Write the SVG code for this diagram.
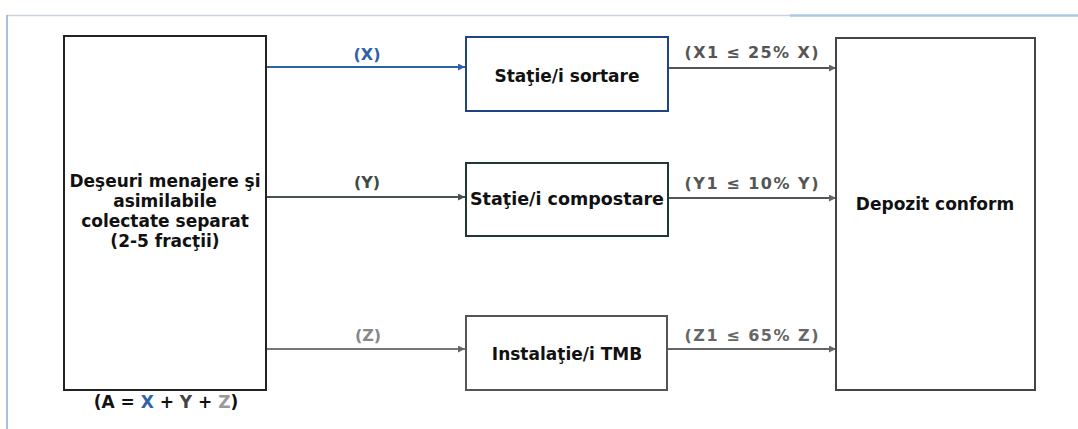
<svg xmlns="http://www.w3.org/2000/svg" width="1078" height="429" viewBox="0 0 1078 429">
<style>
.t{font-family:"DejaVu Sans","Verdana",sans-serif;font-weight:bold;font-size:17px;text-anchor:middle;fill:#111}
.l{font-family:"DejaVu Sans","Verdana",sans-serif;font-weight:bold;font-size:16px;text-anchor:middle}
.box{fill:#fff;stroke-width:2}
.c{fill:none;stroke-width:1.8}
</style>
<defs>
<marker id="mb" viewBox="0 0 10 10" refX="10" refY="5" markerWidth="8" markerHeight="7" markerUnits="userSpaceOnUse" orient="auto"><path d="M0,0L10,5L0,10z" fill="#2e62a8"/></marker>
<marker id="md" viewBox="0 0 10 10" refX="10" refY="5" markerWidth="8" markerHeight="7" markerUnits="userSpaceOnUse" orient="auto"><path d="M0,0L10,5L0,10z" fill="#46524c"/></marker>
<marker id="mg" viewBox="0 0 10 10" refX="10" refY="5" markerWidth="8" markerHeight="7" markerUnits="userSpaceOnUse" orient="auto"><path d="M0,0L10,5L0,10z" fill="#666"/></marker>
</defs>
<rect width="1078" height="429" fill="#fff"/>
<g id="frame">
<line x1="7" y1="15.5" x2="790" y2="15.5" stroke="#c9d3e0" stroke-width="1.5"/>
<line x1="790" y1="15.5" x2="1078" y2="15.5" stroke="#a9c7e6" stroke-width="2.5"/>
<line x1="7" y1="15" x2="7" y2="429" stroke="#8eaad0" stroke-width="1.5"/>
</g>
<g id="connectors">
<line class="c" x1="266" y1="67" x2="465" y2="67" stroke="#2e62a8" stroke-width="2.2" marker-end="url(#mb)"/>
<line class="c" x1="266" y1="197" x2="465" y2="197" stroke="#46524c" marker-end="url(#md)"/>
<line class="c" x1="266" y1="349" x2="465" y2="349" stroke="#777" marker-end="url(#mg)"/>
<line class="c" x1="668" y1="68" x2="836" y2="68" stroke="#555" marker-end="url(#mg)"/>
<line class="c" x1="668" y1="198" x2="836" y2="198" stroke="#555" marker-end="url(#mg)"/>
<line class="c" x1="668" y1="349" x2="836" y2="349" stroke="#666" marker-end="url(#mg)"/>
<text class="l" x="367" y="60" fill="#2e62a8">(X)</text>
<text class="l" x="367" y="188" fill="#3c4a42">(Y)</text>
<text class="l" x="368" y="341" fill="#888" font-weight="normal">(Z)</text>
<text class="l" x="751.5" y="58" fill="#555" textLength="134" lengthAdjust="spacing">(X1 ≤ 25% X)</text>
<text class="l" x="751.5" y="189" fill="#555" textLength="134" lengthAdjust="spacing">(Y1 ≤ 10% Y)</text>
<text class="l" x="751.5" y="341" fill="#666" textLength="134" lengthAdjust="spacing">(Z1 ≤ 65% Z)</text>
</g>
<g id="source">
<rect class="box" x="64" y="36" width="202" height="354" stroke="#222"/>
<text class="t" x="165" y="187" textLength="191" lengthAdjust="spacingAndGlyphs">Deşeuri menajere şi</text>
<text class="t" x="165" y="207">asimilabile</text>
<text class="t" x="165" y="227">colectate separat</text>
<text class="t" x="165" y="247">(2-5 fracţii)</text>
<text class="t" x="166" y="408">(A = <tspan fill="#2e62a8">X</tspan> + <tspan fill="#444">Y</tspan> + <tspan fill="#999">Z</tspan>)</text>
</g>
<g id="sortare">
<rect class="box" x="466" y="37" width="202" height="74" stroke="#1f4486"/>
<text class="t" x="567" y="82">Staţie/i sortare</text>
</g>
<g id="compostare">
<rect class="box" x="466" y="163" width="202" height="73" stroke="#1e3a2c"/>
<text class="t" x="567" y="205" textLength="194" lengthAdjust="spacingAndGlyphs">Staţie/i compostare</text>
</g>
<g id="tmb">
<rect class="box" x="466" y="316" width="201" height="74" stroke="#555"/>
<text class="t" x="567" y="360">Instalaţie/i TMB</text>
</g>
<g id="depozit">
<rect class="box" x="836" y="38" width="199" height="352" stroke="#444"/>
<text class="t" x="935" y="210">Depozit conform</text>
</g>
</svg>
